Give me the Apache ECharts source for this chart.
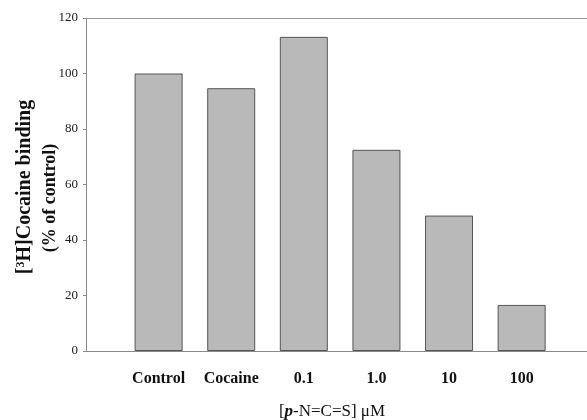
<!DOCTYPE html>
<html>
<head>
<meta charset="utf-8">
<script src="https://cdn.jsdelivr.net/npm/echarts@6/dist/echarts.min.js"></script>
<style>
html,body{margin:0;padding:0;background:#fff;}
#chart{width:587px;height:420px;}
</style>
</head>
<body>
<div id="chart"></div>
<script>
var categories = ['Control', 'Cocaine', '0.1', '1.0', '10', '100'];
var bindingValues = [100, 94.7, 113.2, 72.5, 48.8, 16.6];
var yTicks = [0, 20, 40, 60, 80, 100, 120];

var serif = '"Liberation Serif", "DejaVu Serif", serif';
var chart = echarts.init(document.getElementById('chart'));

var barData = bindingValues.map(function (v, i) { return [i + 1, v]; });

function catLabel(v) {
  var r = Math.round(v);
  if (Math.abs(v - r) > 1e-6) return '';
  var i = r - 1;
  return (i >= 0 && i < categories.length) ? categories[i] : '';
}

var option = {
  backgroundColor: '#fff',
  animation: false,
  grid: { left: 86, right: 0, top: 18, bottom: 69, containLabel: false },
  xAxis: [{
    type: 'value',
    min: 0, max: 6.9, interval: 1,
    position: 'bottom',
    axisLine: { show: true, lineStyle: { color: '#8a8a8a', width: 1 } },
    axisTick: { show: false },
    splitLine: { show: false },
    axisLabel: {
      show: true, margin: 20,
      fontFamily: serif, fontWeight: 'bold', fontSize: 16, color: '#111',
      formatter: catLabel, showMaxLabel: false
    }
  }, {
    type: 'value',
    min: 0, max: 6.9, interval: 1,
    position: 'top',
    axisLine: { show: true, lineStyle: { color: '#9a9a9a', width: 1 } },
    axisTick: { show: false },
    splitLine: { show: false },
    axisLabel: { show: false }
  }],
  yAxis: {
    type: 'value',
    min: yTicks[0], max: yTicks[yTicks.length - 1], interval: 20,
    axisLine: { show: true, lineStyle: { color: '#8a8a8a', width: 1 } },
    axisTick: { show: true, inside: false, length: 3, lineStyle: { color: '#8a8a8a' } },
    splitLine: { show: false },
    axisLabel: { margin: 8, fontFamily: serif, fontSize: 13, color: '#1a1a1a' }
  },
  series: [{
    type: 'bar',
    xAxisIndex: 0,
    data: barData,
    barWidth: 48,
    itemStyle: { color: '#b9b9b9', borderColor: '#555555', borderWidth: 1 }
  }],
  graphic: [{
    type: 'text',
    x: 25, y: 187,
    rotation: Math.PI / 2,
    style: {
      text: '{a|[}{s|3}{a|H]Cocaine binding}',
      align: 'center', verticalAlign: 'middle',
      rich: {
        a: { fontFamily: serif, fontWeight: 'bold', fontSize: 20, fill: '#111' },
        s: { fontFamily: serif, fontWeight: 'bold', fontSize: 12, fill: '#111', verticalAlign: 'top', padding: [0, 0, 8, 0] }
      }
    }
  }, {
    type: 'text',
    x: 50, y: 198,
    rotation: Math.PI / 2,
    style: {
      text: '(% of control)',
      align: 'center', verticalAlign: 'middle',
      fontFamily: serif, fontWeight: 'bold', fontSize: 18, fill: '#111'
    }
  }, {
    type: 'text',
    x: 332, y: 412,
    style: {
      text: '{a|[}{p|p}{a|-N=C=S] μM}',
      align: 'center', verticalAlign: 'middle',
      rich: {
        a: { fontFamily: serif, fontSize: 17, fill: '#111' },
        p: { fontFamily: serif, fontSize: 17, fontWeight: 'bold', fontStyle: 'italic', fill: '#111' }
      }
    }
  }]
};
chart.setOption(option);
</script>
</body>
</html>
